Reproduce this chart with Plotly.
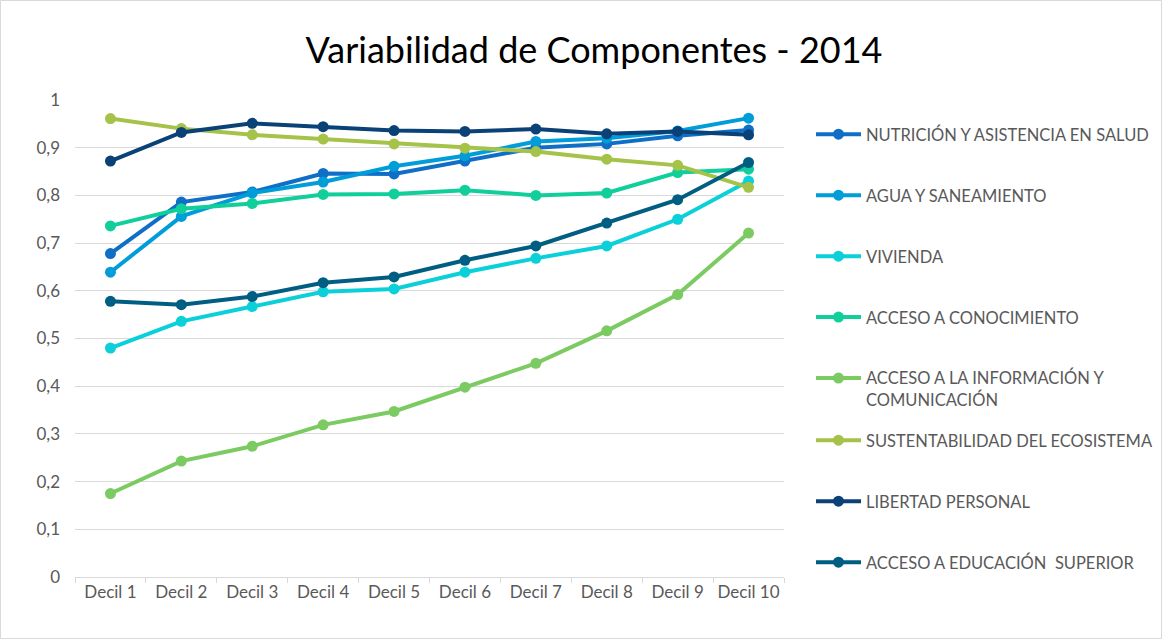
import plotly.graph_objects as go

deciles = ["Decil 1", "Decil 2", "Decil 3", "Decil 4", "Decil 5",
           "Decil 6", "Decil 7", "Decil 8", "Decil 9", "Decil 10"]

nutricion = [0.678, 0.786, 0.807, 0.846, 0.845, 0.872, 0.900, 0.908, 0.925, 0.937]
agua = [0.639, 0.756, 0.805, 0.828, 0.861, 0.883, 0.913, 0.920, 0.935, 0.962]
vivienda = [0.480, 0.536, 0.567, 0.598, 0.604, 0.639, 0.668, 0.694, 0.750, 0.830]
conocimiento = [0.736, 0.772, 0.783, 0.802, 0.803, 0.811, 0.800, 0.805, 0.848, 0.855]
informacion = [0.175, 0.243, 0.274, 0.319, 0.347, 0.398, 0.448, 0.516, 0.592, 0.721]
sustentabilidad = [0.961, 0.940, 0.927, 0.918, 0.908, 0.899, 0.892, 0.876, 0.863, 0.817]
libertad = [0.872, 0.932, 0.951, 0.944, 0.936, 0.934, 0.939, 0.929, 0.934, 0.927]
educacion = [0.578, 0.571, 0.588, 0.617, 0.629, 0.664, 0.694, 0.742, 0.791, 0.869]

names = ["NUTRICIÓN Y ASISTENCIA EN SALUD", "AGUA Y SANEAMIENTO", "VIVIENDA",
         "ACCESO A CONOCIMIENTO", "ACCESO A LA INFORMACIÓN Y<br>COMUNICACIÓN",
         "SUSTENTABILIDAD DEL ECOSISTEMA", "LIBERTAD PERSONAL",
         "ACCESO A EDUCACIÓN  SUPERIOR"]
series = [nutricion, agua, vivienda, conocimiento, informacion,
          sustentabilidad, libertad, educacion]
colors = ["#0F6FC6", "#009DD9", "#0BD0D9", "#10CF9B", "#7CCA62",
          "#A5C249", "#0A4177", "#005E82"]

FONT = "Lato"
GRAY = "#595959"

fig = go.Figure()
for i, (nm, ys, c) in enumerate(zip(names, series, colors)):
    fig.add_trace(go.Scatter(
        x=deciles, y=ys, name=nm, mode="lines+markers",
        line=dict(color=c, width=4),
        marker=dict(color=c, size=11),
        legendgroup=f"g{i}",
        legend="legend" if i < 5 else "legend2",
    ))

W, H = 1162, 639
L, T = 75, 100
R = W - 784
B = H - 577
pw, ph = W - L - R, H - T - B

def py2paper(py):
    return (H - B - py) / ph

def px2paper(px):
    return (px - L) / pw

legend_common = dict(
    xanchor="left", yanchor="top",
    font=dict(family=FONT, size=16.5, color=GRAY),
    bgcolor="rgba(0,0,0,0)",
    traceorder="grouped", tracegroupgap=36.5, valign="top",
    itemwidth=45,
)

fig.update_layout(
    width=W, height=H,
    margin=dict(l=L, r=R, t=T, b=B, autoexpand=False),
    paper_bgcolor="white", plot_bgcolor="white",
    separators=",.",
    font=dict(family=FONT, size=17, color=GRAY),
    title=dict(text="Variabilidad de Componentes - 2014",
               x=594 / W, xanchor="center",
               y=1 - 50 / H, yanchor="middle",
               font=dict(family=FONT, size=36, color="#000000")),
    showlegend=True,
    legend=dict(x=px2paper(811), y=py2paper(117), **legend_common),
    legend2=dict(x=px2paper(811), y=py2paper(423), **legend_common),
    xaxis=dict(
        range=[-0.5, 9.5], showgrid=False,
        showline=True, linecolor="#D9D9D9", linewidth=1,
        ticks="outside", tickson="boundaries", ticklen=5, tickcolor="#D9D9D9",
        tickfont=dict(family=FONT, size=17, color=GRAY),
        tickangle=0, zeroline=False, automargin=False,
    ),
    yaxis=dict(
        range=[0, 1.0], dtick=0.1, tick0=0,
        showgrid=True, gridcolor="#D9D9D9", gridwidth=1,
        showline=False, zeroline=False, ticks="",
        tickfont=dict(family=FONT, size=17, color=GRAY),
        ticklabelstandoff=14, automargin=False,
    ),
    shapes=[dict(type="rect", xref="paper", yref="paper",
                 x0=px2paper(0.5), x1=px2paper(W - 0.5),
                 y0=py2paper(H - 0.5), y1=py2paper(0.5),
                 line=dict(color="#D9D9D9", width=1), layer="below")],
)

# remove the default page margin so the figure sits at the window's top-left corner
fig.write_html(
    "out.html",
    config={"displayModeBar": False},
    post_script="document.body.style.margin='0';document.body.style.overflow='hidden';",
)
